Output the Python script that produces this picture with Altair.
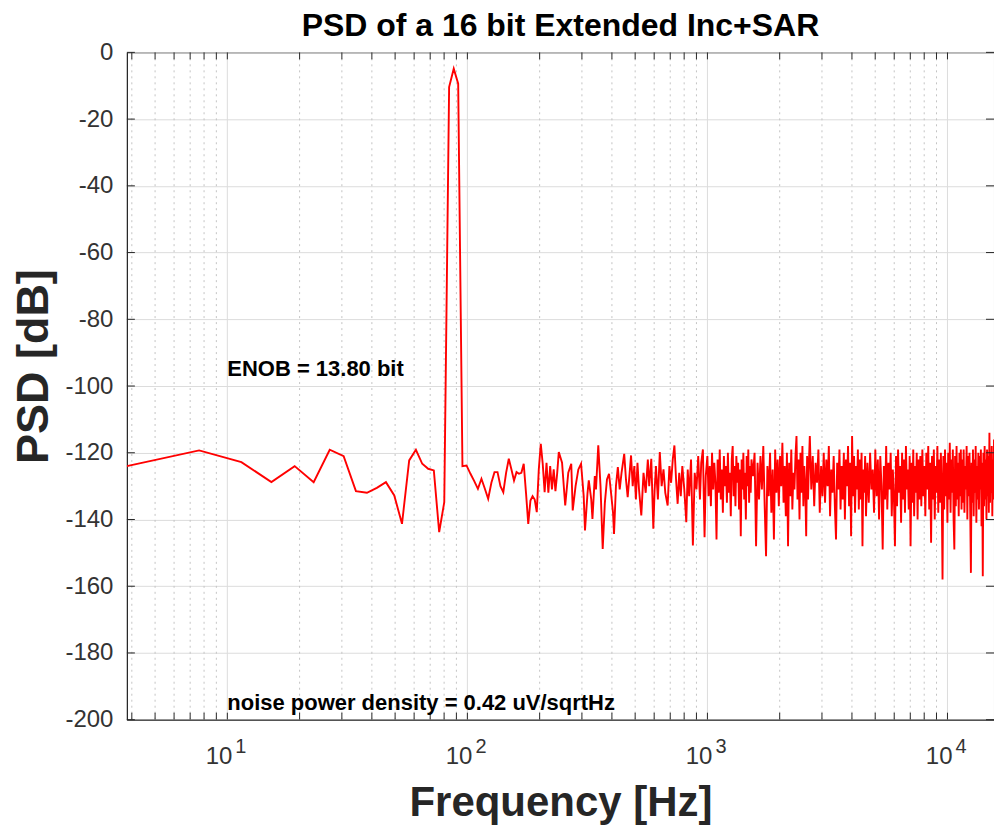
import altair as alt
import pandas as pd

# ---------------- data ----------------
FS = 31250.0          # sample rate [Hz]
NFFT = 8192           # FFT length -> bin spacing FS/NFFT
DF = FS / NFFT

TITLE = "PSD of a 16 bit Extended Inc+SAR"
NOTE_TEXT = ["ENOB = 13.80 bit", "noise power density = 0.42 uV/sqrtHz"]
NOTE_FREQ = [10, 10]
NOTE_DB = [-95, -195]

# individually read bins (low / mid frequency)
LOW_BINS = [1, 2, 3, 4, 5, 6, 7, 8, 9, 10,
            11, 12, 13, 14, 15, 16, 17, 18, 19, 20,
            21, 22, 23, 24, 25, 26, 27, 28, 29, 30,
            31, 32, 33, 34, 35, 36, 37, 38, 39, 40,
            41, 42, 43, 44, 45, 46, 47, 48, 49, 50,
            51, 52, 53, 54, 55, 56, 57, 58, 59, 60,
            61, 62, 63, 65, 67, 69, 71, 72, 74, 76,
            78, 80, 81, 83, 84, 86, 87, 89, 90, 92,
            94, 96, 98, 100, 102, 104, 106, 107, 109, 111,
            113, 115, 118, 120, 122, 124, 126, 128, 130, 132,
            134, 136, 139, 142, 145, 148, 150, 153, 156, 158,
            160, 163, 166, 169, 172, 175, 179, 182, 185, 188,
            191, 194, 197, 200, 203, 206, 210, 214, 217, 220,
            224, 228, 232, 236, 240, 244, 247, 251, 255, 258]
LOW_DB = [-124.0, -119.3, -122.8, -128.8, -124.0, -128.8, -119.1, -121.0, -131.5, -132.0,
          -130.5, -128.8, -132.8, -141.3, -122.3, -119.1, -123.3, -124.8, -125.3, -143.8,
          -134.8, -10.4, -4.9, -9.4, -124.0, -123.8, -126.3, -128.5, -130.8, -127.8,
          -130.8, -133.8, -129.0, -125.8, -125.8, -130.0, -131.8, -126.0, -121.8, -125.0,
          -128.3, -125.8, -126.3, -126.0, -123.3, -132.0, -141.3, -134.3, -133.0, -134.0,
          -137.8, -125.0, -117.3, -123.3, -131.8, -123.0, -132.0, -124.0, -131.0, -125.0,
          -131.5, -126.3, -119.8, -123.0, -135.8, -126.0, -123.3, -137.3, -130.0, -125.0,
          -123.3, -133.0, -143.3, -132.0, -128.3, -134.0, -139.8, -127.0, -131.0, -117.8,
          -130.0, -148.8, -135.0, -128.0, -126.3, -132.0, -138.0, -144.3, -130.0, -124.3,
          -131.0, -126.0, -120.3, -128.0, -133.3, -127.0, -120.8, -130.0, -124.0, -134.0,
          -123.0, -131.0, -138.8, -126.0, -132.0, -122.0, -130.0, -121.8, -142.8, -131.0,
          -124.0, -134.0, -119.8, -130.0, -125.0, -132.0, -135.8, -124.0, -129.0, -122.0,
          -117.8, -128.0, -135.3, -126.0, -133.0, -124.0, -131.0, -140.8, -125.0, -133.0,
          -122.0, -147.8, -126.0, -131.0, -121.0, -134.0, -123.0, -119.0, -145.3, -127.0]

# dense high-frequency region: regularly spaced FFT bins per segment
SEG_START = [262, 406, 710, 1216, 2020, 3018]
SEG_STEP = [3, 6, 10, 16, 20, 22]
SEG_A_DB = [-121, -133, -124, -136, -120, -131, -123, -129, -146, -122,
            -132, -119, -134, -125, -138, -121, -130, -124, -135, -120,
            -132, -126, -139, -122, -118, -133, -124, -136, -121, -129,
            -123, -137, -125, -145, -122, -131, -120, -134, -126, -140,
            -121, -130, -119, -135, -124, -132, -122]
SEG_B_DB = [-127, -120, -148, -123, -134, -121, -131, -118, -136, -151,
            -124, -133, -120, -138, -125, -146, -119, -132, -122, -136,
            -121, -130, -117, -135, -124, -139, -120, -148, -123, -133,
            -119, -137, -126, -131, -121, -115, -134, -122, -140, -120,
            -132, -118, -136, -124, -130, -145, -121, -134, -123, -115]
SEG_C_DB = [-131, -121, -136, -123, -129, -119, -138, -124, -133, -120,
            -135, -122, -130, -118, -139, -125, -132, -121, -136, -146,
            -123, -131, -119, -137, -124, -134, -120, -140, -122, -130,
            -118, -136, -123, -145, -115, -133, -121, -138, -124, -131,
            -119, -137, -122, -134, -120, -148, -125, -132, -121, -139]
SEG_D_DB = [-123, -135, -120, -131, -125, -138, -119, -133, -122, -140,
            -121, -130, -149, -124, -134, -118, -137, -123, -131, -120,
            -139, -125, -133, -148, -121, -136, -119, -132, -124, -141,
            -120, -134, -122, -138, -118, -131, -125, -137, -121, -148,
            -123, -135, -119, -139, -124, -132, -120, -140, -122, -134]
SEG_E_DB = [-121, -136, -119, -133, -124, -139, -120, -131, -118, -137,
            -123, -147, -121, -134, -119, -140, -124, -132, -118, -138,
            -122, -135, -120, -131, -158, -121, -137, -119, -133, -123,
            -141, -120, -134, -117, -138, -122, -132, -119, -140, -149,
            -121, -136, -118, -134, -123, -139, -120, -133, -119, -137]
SEG_F_DB = [-122, -135, -119, -138, -124, -131, -118, -140, -121, -133,
            -120, -137, -156, -123, -135, -119, -139, -122, -132, -118,
            -141, -124, -134, -120, -137, -121, -131, -119, -142, -123,
            -157, -120, -136, -118, -134, -122, -140, -119, -133, -121,
            -138, -114, -135, -120, -132, -118, -139, -122, -134, -116]
SEG_DB = [SEG_A_DB, SEG_B_DB, SEG_C_DB, SEG_D_DB, SEG_E_DB, SEG_F_DB]

Y_TICKS = [-200, -180, -160, -140, -120, -100, -80, -60, -40, -20, 0]
X_MAJOR = [10, 100, 1000, 10000]
X_MAJOR_EXP = ["1", "2", "3", "4"]
X_MINOR = [4, 5, 6, 7, 8, 9,
           20, 30, 40, 50, 60, 70, 80, 90,
           200, 300, 400, 500, 600, 700, 800, 900,
           2000, 3000, 4000, 5000, 6000, 7000, 8000, 9000]

# ---------------- tables ----------------
bins = list(LOW_BINS)
vals = list(LOW_DB)
for start, step, seg in zip(SEG_START, SEG_STEP, SEG_DB):
    bins += [start + step * i for i in range(len(seg))]
    vals += seg
psd = pd.DataFrame({"freq": [b * DF for b in bins], "db": vals})

major_df = pd.DataFrame({"freq": X_MAJOR, "base": ["10"] * 4, "exp": X_MAJOR_EXP})
minor_df = pd.DataFrame({"freq": X_MINOR})
all_ticks_df = pd.DataFrame({"freq": X_MAJOR + X_MINOR})
ytick_df = pd.DataFrame({"db": Y_TICKS})
notes_df = pd.DataFrame({"freq": NOTE_FREQ, "db": NOTE_DB, "t": NOTE_TEXT})
title_df = pd.DataFrame({"t": [TITLE]})

# ---------------- chart ----------------
W, H = 868, 668
FONT = "Liberation Sans, Arial, Helvetica, sans-serif"
AX = "#262626"

xs = alt.Scale(type="log", domain=[DF, FS / 2], nice=False)
ys = alt.Scale(domain=[-200, 0], nice=False)

X_AXIS = alt.Axis(
    title="Frequency [Hz]", labels=False, ticks=False, grid=False,
    domainColor=AX, domainWidth=1,
    titleFont=FONT, titleFontSize=42, titleFontWeight="bold", titleColor=AX,
    titleY=96, titleBaseline="alphabetic")
Y_AXIS = alt.Axis(
    title="PSD [dB]", values=Y_TICKS, grid=True, gridColor="#dcdcdc", gridWidth=1,
    ticks=False, labelPadding=14, labelFont=FONT, labelFontSize=24,
    labelExpr="toString(datum.value)",
    labelColor="#333333", domainColor=AX, domainWidth=1,
    titleFont=FONT, titleFontSize=45, titleFontWeight="bold", titleColor=AX,
    titleAngle=270, titleX=-79, titleY=314, titleAlign="center",
    titleBaseline="alphabetic")


def X():
    return alt.X("freq:Q", scale=xs, axis=X_AXIS)


def Y():
    return alt.Y("db:Q", scale=ys, axis=Y_AXIS)


minor_grid = alt.Chart(minor_df).mark_rule(
    color="#c4c4c4", strokeWidth=1, strokeDash=[2, 4]
).encode(x=X())

major_grid = alt.Chart(major_df).mark_rule(
    color="#dcdcdc", strokeWidth=1
).encode(x=X())

line = alt.Chart(psd).mark_line(color="#ff0000", strokeWidth=1.9, clip=True).encode(
    x=X(), y=Y())

xt_bottom = alt.Chart(all_ticks_df).mark_rule(color=AX).encode(
    x=X(), y=alt.value(H), y2=alt.value(H - 7))
xt_top = alt.Chart(all_ticks_df).mark_rule(color=AX).encode(
    x=X(), y=alt.value(0), y2=alt.value(7))
yt_left = alt.Chart(ytick_df).mark_rule(color=AX).encode(
    y=Y(), x=alt.value(0), x2=alt.value(8))
yt_right = alt.Chart(ytick_df).mark_rule(color=AX).encode(
    y=Y(), x=alt.value(W), x2=alt.value(W - 8))

xlab_base = alt.Chart(major_df).mark_text(
    align="right", baseline="alphabetic", dx=5, font=FONT, fontSize=24, color="#333333"
).encode(x=X(), y=alt.value(712), text="base:N")
xlab_exp = alt.Chart(major_df).mark_text(
    align="left", baseline="alphabetic", dx=8, font=FONT, fontSize=20, color="#333333"
).encode(x=X(), y=alt.value(701), text="exp:N")

notes = alt.Chart(notes_df).mark_text(
    align="left", baseline="middle", font=FONT, fontSize=22, fontWeight="bold", color="#000000"
).encode(x=X(), y=Y(), text="t:N")

title = alt.Chart(title_df).mark_text(
    align="center", baseline="alphabetic", font=FONT, fontSize=32, fontWeight="bold", color="#000000"
).encode(x=alt.value(W / 2), y=alt.value(-16), text="t:N")

chart = alt.layer(
    minor_grid, major_grid, line, xt_bottom, xt_top, yt_left, yt_right,
    xlab_base, xlab_exp, notes, title
).properties(
    width=W, height=H,
    padding={"left": 127, "top": 52, "right": 0, "bottom": 113},
    autosize=alt.AutoSizeParams(type="none"),
    background="white",
).configure_view(stroke=AX, strokeWidth=1)

chart.save("out.html", embed_options={"renderer": "svg", "actions": False})
